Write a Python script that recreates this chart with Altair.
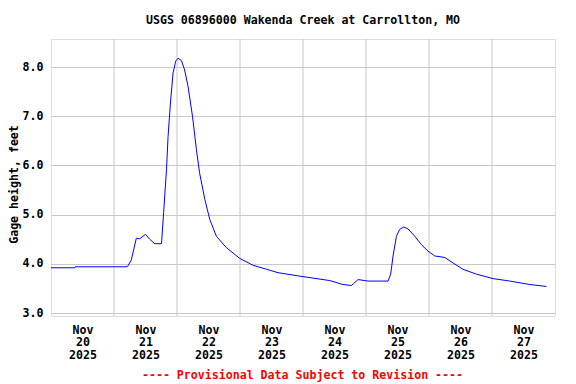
import altair as alt
import pandas as pd

# Gage height readings (UTC timestamps)
times = [
    "2025-11-20T00:00:00Z", "2025-11-20T09:00:00Z", "2025-11-20T09:10:00Z",
    "2025-11-21T05:00:00Z", "2025-11-21T05:12:00Z", "2025-11-21T06:36:00Z",
    "2025-11-21T08:30:00Z", "2025-11-21T09:48:00Z", "2025-11-21T12:00:00Z",
    "2025-11-21T13:36:00Z", "2025-11-21T15:30:00Z", "2025-11-21T18:06:00Z",
    "2025-11-21T18:54:00Z", "2025-11-21T20:00:00Z", "2025-11-21T20:36:00Z",
    "2025-11-21T21:30:00Z", "2025-11-21T22:30:00Z", "2025-11-21T23:30:00Z",
    "2025-11-22T00:24:00Z", "2025-11-22T01:42:00Z", "2025-11-22T02:54:00Z",
    "2025-11-22T04:12:00Z", "2025-11-22T05:54:00Z", "2025-11-22T07:24:00Z",
    "2025-11-22T08:36:00Z", "2025-11-22T10:36:00Z", "2025-11-22T12:30:00Z",
    "2025-11-22T15:00:00Z", "2025-11-22T18:48:00Z", "2025-11-22T23:54:00Z",
    "2025-11-23T05:00:00Z", "2025-11-23T10:06:00Z", "2025-11-23T14:30:00Z",
    "2025-11-23T22:48:00Z", "2025-11-24T10:12:00Z", "2025-11-24T15:12:00Z",
    "2025-11-24T18:24:00Z", "2025-11-24T19:18:00Z", "2025-11-24T21:00:00Z",
    "2025-11-25T00:48:00Z", "2025-11-25T08:24:00Z", "2025-11-25T09:24:00Z",
    "2025-11-25T10:18:00Z", "2025-11-25T11:36:00Z", "2025-11-25T12:48:00Z",
    "2025-11-25T14:24:00Z", "2025-11-25T16:00:00Z", "2025-11-25T18:36:00Z",
    "2025-11-25T21:06:00Z", "2025-11-25T23:36:00Z", "2025-11-26T02:12:00Z",
    "2025-11-26T06:00:00Z", "2025-11-26T09:06:00Z", "2025-11-26T12:54:00Z",
    "2025-11-26T18:06:00Z", "2025-11-27T00:24:00Z", "2025-11-27T06:48:00Z",
    "2025-11-27T14:24:00Z", "2025-11-27T20:42:00Z",
]
gage_ft = [
    3.92, 3.92, 3.94,
    3.94, 3.95, 4.08,
    4.52, 4.51, 4.60,
    4.50, 4.41, 4.41,
    5.04, 5.92, 6.59,
    7.27, 7.88, 8.12,
    8.18, 8.13, 7.94,
    7.61, 7.00, 6.32,
    5.85, 5.31, 4.90,
    4.56, 4.33, 4.11,
    3.97, 3.89, 3.82,
    3.75, 3.66, 3.58,
    3.56, 3.60, 3.68,
    3.65, 3.65, 3.79,
    4.16, 4.56, 4.70,
    4.75, 4.71, 4.56,
    4.39, 4.26, 4.16,
    4.13, 4.02, 3.89,
    3.79, 3.70, 3.65,
    3.58, 3.54,
]

day_bounds = [f"2025-11-{d}T00:00:00Z" for d in range(21, 28)]
day_labels = [alt.DateTime(year=2025, month=11, date=d, hours=12, utc=True) for d in range(20, 28)]
y_ticks = [3, 4, 5, 6, 7, 8]

FONT = "DejaVu Sans Mono"
GRID = "#c8c8c8"

df = pd.DataFrame({"time": times, "gage": gage_ft})
grid_df = pd.DataFrame({"time": day_bounds})

x_scale = alt.Scale(
    type="utc",
    domain=[alt.DateTime(year=2025, month=11, date=20, utc=True),
            alt.DateTime(year=2025, month=11, date=28, utc=True)],
)
y_scale = alt.Scale(domain=[2.94, 8.57], nice=False, zero=False)

grid = alt.Chart(grid_df).mark_rule(color=GRID, strokeWidth=1).encode(
    x=alt.X("time:T", scale=x_scale)
)

line = alt.Chart(df).mark_line(color="#0000ff", strokeWidth=1).encode(
    x=alt.X(
        "time:T",
        scale=x_scale,
        axis=alt.Axis(
            values=day_labels,
            labelExpr="[utcFormat(datum.value, '%b'), utcFormat(datum.value, '%d'), utcFormat(datum.value, '%Y')]",
            grid=False,
            ticks=False,
            domain=False,
            labelFont=FONT,
            labelFontWeight="bold",
            labelFontSize=11.6,
            labelColor="black",
            labelPadding=8,
            labelLineHeight=12.5,
            labelBaseline="top",
            labelAngle=0,
            title="---- Provisional Data Subject to Revision ----",
            titleFont=FONT,
            titleFontWeight="bold",
            titleFontSize=11.6,
            titleColor="#ff0000",
            titleX=251,
            titleY=62,
            titleBaseline="alphabetic",
            titleAlign="center",
        ),
    ),
    y=alt.Y(
        "gage:Q",
        scale=y_scale,
        axis=alt.Axis(
            values=y_ticks,
            format=".1f",
            grid=True,
            gridColor=GRID,
            gridOpacity=1,
            ticks=False,
            domain=False,
            labelFont=FONT,
            labelFontWeight="bold",
            labelFontSize=11.6,
            labelColor="black",
            labelPadding=8,
            title="Gage height, feet",
            titleFont=FONT,
            titleFontWeight="bold",
            titleFontSize=11.6,
            titleColor="black",
            titleX=-34,
            titleY=145,
            titleBaseline="alphabetic",
            titleAngle=-90,
            titleAlign="center",
        ),
    ),
)

chart = (
    alt.layer(grid, line)
    .properties(
        width=504,
        height=277,
        title=alt.TitleParams(
            "USGS 06896000 Wakenda Creek at Carrollton, MO",
            font=FONT,
            fontWeight="bold",
            fontSize=11.6,
            color="black",
            anchor="middle",
            frame="group",
            baseline="alphabetic",
            offset=3,
        ),
        autosize=alt.AutoSizeParams(type="none"),
        padding={"left": 43, "top": 31, "right": 13, "bottom": 66},
    )
    .configure_view(stroke="black", strokeWidth=1)
    .configure(background="white")
)

chart.save("out.html", embed_options={"renderer": "svg", "actions": False})
